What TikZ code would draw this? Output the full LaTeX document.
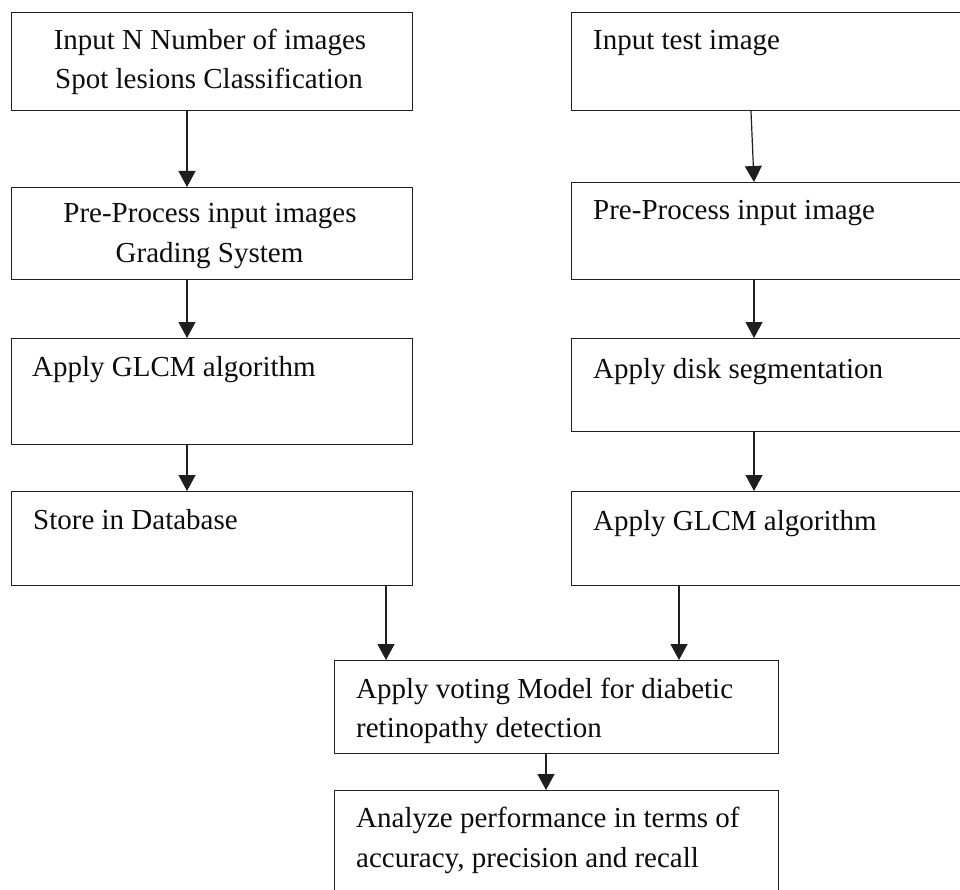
\documentclass[tikz,border=0pt]{standalone}
\usepackage{fontspec}
\setmainfont{Liberation Serif}
\usetikzlibrary{arrows.meta,calc}
\begin{document}
\begin{tikzpicture}[x=1pt,y=-1pt,
  box/.style={draw=black!88,line width=1.2pt,anchor=north west,inner sep=0pt,minimum width=#1},
  box/.default=401pt,
  lbl/.style={inner sep=0pt,font=\fontsize{29}{36}\selectfont,text=black!95},
  lblw/.style={lbl,anchor=base west},
  lblc/.style={lbl,anchor=base},
  arr/.style={draw=black!88,line width=1.2pt,-{Triangle[width=17pt,length=16pt]}}]
\useasboundingbox (0,0) rectangle (960,890);
\clip (0,0) rectangle (960,890);
\fill[white] (0,0) rectangle (960,890);
% left column
\node[box,minimum height=98pt] (l1) at (11,12) {};
\node[box,minimum height=92pt] (l2) at (11,187) {};
\node[box,minimum height=106pt] (l3) at (11,338) {};
\node[box,minimum height=94pt] (l4) at (11,491) {};
% right column
\node[box=404pt,minimum height=98pt] (r1) at (571,12) {};
\node[box=404pt,minimum height=97pt] (r2) at (571,182) {};
\node[box=404pt,minimum height=93pt] (r3) at (571,338) {};
\node[box=404pt,minimum height=94pt] (r4) at (571,491) {};
% bottom
\node[box=444pt,minimum height=93pt] (v) at (334,660) {};
\node[box=444pt,minimum height=115pt] (a) at (334,790) {};
% texts
\node[lblc] (t1a) at (210,50) {Input N Number of images};
\node[lblc] (t1b) at (209,89) {Spot lesions Classification};
\node[lblc] (t2a) at (210,223) {Pre-Process input images};
\node[lblc] (t2b) at (209.5,263) {Grading System};
\node[lblw] (t3) at (32,376) {Apply GLCM algorithm};
\node[lblw] (t4) at (33,529) {Store in Database};
\node[lblw] (s1) at (593,50) {Input test image};
\node[lblw] (s2) at (593,220) {Pre-Process input image};
\node[lblw] (s3) at (593,378) {Apply disk segmentation};
\node[lblw] (s4) at (593,530) {Apply GLCM algorithm};
\node[lblw] (va) at (356,698) {Apply voting Model for diabetic};
\node[lblw] (vb) at (356,737) {retinopathy detection};
\node[lblw] (aa) at (356,827) {Analyze performance in terms of};
\node[lblw] (ab) at (356,867) {accuracy, precision and recall};
% arrows
\draw[arr] ($(l1.south west)+(176,0)$) -- ($(l2.north west)+(176,0)$);
\draw[arr] ($(l2.south west)+(176,0)$) -- ($(l3.north west)+(176,0)$);
\draw[arr] ($(l3.south west)+(176,0)$) -- ($(l4.north west)+(176,0)$);
\draw[arr] ($(r1.south west)+(180,0)$) -- ($(r2.north west)+(183,0)$);
\draw[arr] ($(r2.south west)+(183,0)$) -- ($(r3.north west)+(183,0)$);
\draw[arr] ($(r3.south west)+(183,0)$) -- ($(r4.north west)+(183,0)$);
\draw[arr] ($(l4.south west)+(375,0)$) -- ($(v.north west)+(52,0)$);
\draw[arr] ($(r4.south west)+(108,0)$) -- ($(v.north west)+(345,0)$);
\draw[arr] ($(v.south west)+(212,0)$) -- ($(a.north west)+(212,0)$);
\end{tikzpicture}
\end{document}
